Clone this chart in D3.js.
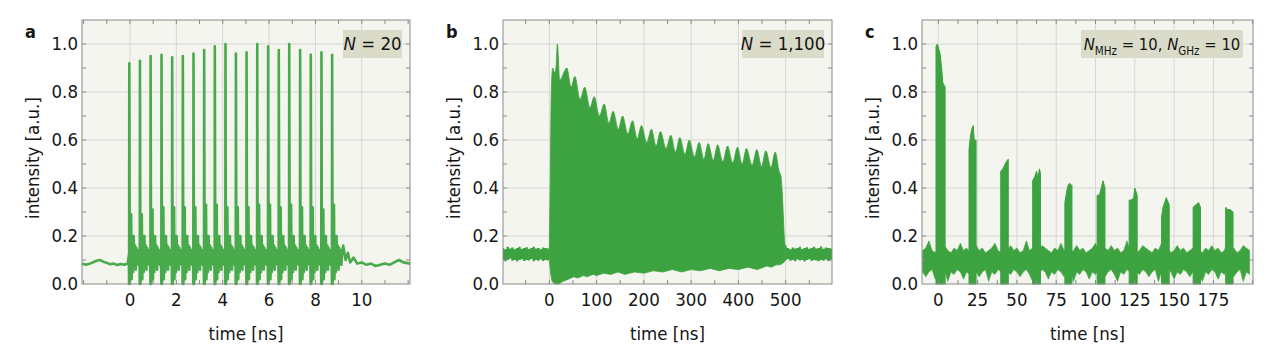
<!DOCTYPE html>
<html>
<head>
<meta charset="utf-8">
<script src="https://cdn.jsdelivr.net/npm/d3@7"></script>
<style>
  body { margin: 0; background: #fff; }
  text { font-family: "Liberation Sans Narrow", "DejaVu Sans Condensed", "Roboto Condensed", sans-serif; fill: #151515; }
</style>
</head>
<body>
<svg id="chart" width="1280" height="355"></svg>
<script>
// ---- data ----

// panel a: 20 pulses
var aPulseT = [-0.03, 0.43, 0.89, 1.36, 1.82, 2.28, 2.74, 3.2, 3.66, 4.12, 4.57, 5.03, 5.49, 5.96, 6.42, 6.87, 7.34, 7.8, 8.26, 8.72];
var aPeakV = [0.92, 0.93, 0.95, 0.955, 0.945, 0.95, 0.96, 0.975, 0.99, 1.0, 0.96, 0.965, 1.0, 0.99, 0.975, 1.0, 0.975, 0.955, 0.965, 0.955];
var aSecondV = [0.29, 0.29, 0.31, 0.32, 0.32, 0.32, 0.32, 0.33, 0.33, 0.32, 0.32, 0.32, 0.33, 0.33, 0.32, 0.33, 0.32, 0.32, 0.31, 0.33];
// shape of one pulse (time after pulse, level); "peak" / "second" come from the arrays above
var aShapeDt = [-0.02, -0.008, 0, 0.02, 0.045, 0.08, 0.1, 0.13, 0.16, 0.19, 0.22, 0.25, 0.28, 0.31, 0.34, 0.37, 0.4, 0.43];
var aShapeV = [0.12, 0, "peak", 0, 0.05, "second", 0.02, 0.17, 0.05, 0.2, 0.08, 0.16, 0.06, 0.15, 0.09, 0.14, 0.08, 0.13];
var aPreT = [-2.07, -1.9, -1.75, -1.6, -1.45, -1.3, -1.15, -1.0, -0.85, -0.7, -0.55, -0.4, -0.25, -0.1];
var aPreV = [0.085, 0.08, 0.084, 0.09, 0.097, 0.1, 0.093, 0.088, 0.082, 0.085, 0.079, 0.083, 0.08, 0.085];
var aPostT = [9.2, 9.3, 9.4, 9.5, 9.65, 9.8, 10.0, 10.2, 10.4, 10.6, 10.8, 11.0, 11.2, 11.4, 11.6, 11.8, 12.08];
var aPostV = [0.16, 0.1, 0.13, 0.09, 0.11, 0.085, 0.09, 0.08, 0.085, 0.075, 0.08, 0.085, 0.08, 0.09, 0.1, 0.09, 0.085];

// panel b: burst of 1,100 pulses (envelopes)
var bRiseT = [0, 2, 4, 7, 11, 14];
var bRiseV = [0.15, 0.45, 0.78, 0.9, 0.88, 0.9];
var bPeakT = [17, 37, 54, 75, 95, 116, 135, 155, 176, 195, 216, 235, 257, 276, 296, 317, 336, 356, 377, 398, 417, 439, 458, 478];
var bPeakV = [1.0, 0.9, 0.865, 0.82, 0.78, 0.75, 0.72, 0.7, 0.68, 0.66, 0.645, 0.635, 0.62, 0.61, 0.6, 0.59, 0.585, 0.58, 0.575, 0.57, 0.565, 0.56, 0.555, 0.55];
var bTroughT = [22, 46, 65, 86, 106, 126, 146, 166, 186, 206, 226, 247, 267, 287, 307, 327, 347, 367, 388, 408, 429, 449, 469, 486];
var bTroughV = [0.85, 0.82, 0.77, 0.735, 0.7, 0.67, 0.645, 0.625, 0.605, 0.59, 0.575, 0.565, 0.55, 0.54, 0.53, 0.52, 0.515, 0.51, 0.505, 0.5, 0.495, 0.49, 0.485, 0.47];
var bFallT = [490, 494, 497, 500];
var bFallV = [0.45, 0.33, 0.2, 0.15];
var bLowT = [0, 3, 6, 12, 20, 28, 40, 52, 60, 72, 80, 92, 100, 115, 130, 145, 160, 180, 200, 220, 240, 260, 280, 300, 320, 340, 360, 380, 400, 420, 440, 460, 470, 480, 488, 496, 500];
var bLowV = [0.1, 0.04, 0.01, 0.0, 0.0, 0.01, 0.02, 0.03, 0.025, 0.035, 0.03, 0.04, 0.035, 0.045, 0.04, 0.05, 0.04, 0.05, 0.045, 0.055, 0.05, 0.06, 0.05, 0.06, 0.055, 0.065, 0.055, 0.065, 0.06, 0.07, 0.06, 0.075, 0.07, 0.08, 0.08, 0.09, 0.1];
var bPreT = [-98, -93, -88, -83, -78, -73, -68, -63, -58, -53, -48, -43, -38, -33, -28, -23, -18, -13, -8, -3, 0];
var bPreHi = [0.15, 0.145, 0.155, 0.148, 0.152, 0.145, 0.15, 0.155, 0.147, 0.15, 0.153, 0.146, 0.15, 0.155, 0.148, 0.15, 0.145, 0.152, 0.15, 0.148, 0.15];
var bPreLo = [0.1, 0.095, 0.1, 0.105, 0.097, 0.1, 0.094, 0.1, 0.103, 0.096, 0.1, 0.098, 0.104, 0.095, 0.1, 0.097, 0.102, 0.096, 0.1, 0.098, 0.1];
var bPostT = [500, 505, 510, 515, 520, 525, 530, 535, 540, 545, 550, 555, 560, 565, 570, 575, 580, 585, 590, 598];
var bPostHi = [0.16, 0.15, 0.145, 0.152, 0.148, 0.15, 0.155, 0.146, 0.15, 0.153, 0.147, 0.15, 0.155, 0.148, 0.15, 0.156, 0.147, 0.152, 0.15, 0.148];
var bPostLo = [0.1, 0.104, 0.097, 0.1, 0.095, 0.102, 0.098, 0.1, 0.094, 0.1, 0.103, 0.096, 0.1, 0.098, 0.095, 0.1, 0.097, 0.102, 0.096, 0.1];

// panel c: 10 MHz bursts of 10 GHz pulses (top of each burst)
var cBurstT = [
  [-1.5, -0.6, 1.1, 2.1, 2.8, 4.3],
  [19.5, 20.5, 21.5, 22.2, 22.8, 24.0],
  [39.7, 41.0, 42.5, 43.8, 44.5],
  [60.0, 61.5, 62.5, 63.3, 64.3, 65.0],
  [80.5, 81.5, 82.5, 83.5, 85.0],
  [101.0, 102.5, 104.0, 104.8, 106.0],
  [121.4, 123.0, 124.3, 125.0, 126.5],
  [142.0, 143.0, 144.0, 145.0, 146.9],
  [162.1, 164.0, 165.5, 166.8],
  [182.8, 184.0, 185.5, 187.5]
];
var cBurstV = [
  [0.99, 1.0, 0.96, 0.9, 0.84, 0.82],
  [0.56, 0.62, 0.65, 0.66, 0.6, 0.6],
  [0.47, 0.48, 0.5, 0.515, 0.52],
  [0.43, 0.45, 0.47, 0.44, 0.48, 0.46],
  [0.34, 0.38, 0.41, 0.42, 0.41],
  [0.37, 0.37, 0.41, 0.43, 0.4],
  [0.35, 0.35, 0.36, 0.4, 0.37],
  [0.28, 0.32, 0.34, 0.36, 0.33],
  [0.32, 0.33, 0.34, 0.32],
  [0.32, 0.31, 0.31, 0.3]
];
// noise floor between bursts, every 2 ns
var cNoiseT = [-10, -8, -6, -4, -2, 0, 2, 4, 6, 8, 10, 12, 14, 16, 18, 20, 22, 24, 26, 28, 30, 32, 34, 36, 38, 40, 42, 44, 46, 48, 50, 52, 54, 56, 58, 60, 62, 64, 66, 68, 70, 72, 74, 76, 78, 80, 82, 84, 86, 88, 90, 92, 94, 96, 98, 100, 102, 104, 106, 108, 110, 112, 114, 116, 118, 120, 122, 124, 126, 128, 130, 132, 134, 136, 138, 140, 142, 144, 146, 148, 150, 152, 154, 156, 158, 160, 162, 164, 166, 168, 170, 172, 174, 176, 178, 180, 182, 184, 186, 188, 190, 192, 194, 196, 198];
var cNoiseHi = [
  0.14, 0.15, 0.18, 0.14, 0.13, 0.15, 0.14, 0.16, 0.14, 0.13,
  0.15, 0.14, 0.17, 0.14, 0.15, 0.13, 0.14, 0.16, 0.14, 0.15,
  0.13, 0.14, 0.15, 0.17, 0.14, 0.13, 0.15, 0.14, 0.16, 0.14,
  0.15, 0.13, 0.14, 0.18, 0.14, 0.15, 0.13, 0.14, 0.16, 0.15,
  0.14, 0.13, 0.15, 0.14, 0.17, 0.14, 0.15, 0.13, 0.14, 0.16,
  0.14, 0.15, 0.13, 0.14, 0.15, 0.17, 0.14, 0.13, 0.15, 0.14,
  0.16, 0.14, 0.15, 0.13, 0.14, 0.18, 0.14, 0.15, 0.13, 0.14,
  0.16, 0.15, 0.14, 0.13, 0.15, 0.14, 0.17, 0.14, 0.15, 0.13,
  0.14, 0.16, 0.14, 0.15, 0.13, 0.14, 0.15, 0.17, 0.14, 0.13,
  0.15, 0.14, 0.16, 0.14, 0.15, 0.13, 0.14, 0.18, 0.14, 0.15,
  0.13, 0.14, 0.16, 0.15, 0.14];
var cNoiseLo = [
  0.05, 0.03, 0.05, 0.06, 0.02, 0.05, 0.04, 0.06, 0.01, 0.05,
  0.04, 0.06, 0.05, 0.02, 0.05, 0.04, 0.06, 0.05, 0.03, 0.05,
  0.06, 0.01, 0.05, 0.04, 0.06, 0.05, 0.02, 0.05, 0.04, 0.06,
  0.05, 0.03, 0.05, 0.06, 0.04, 0.01, 0.05, 0.04, 0.06, 0.05,
  0.02, 0.05, 0.04, 0.06, 0.05, 0.03, 0.05, 0.06, 0.01, 0.05,
  0.04, 0.06, 0.05, 0.02, 0.05, 0.04, 0.06, 0.05, 0.03, 0.05,
  0.06, 0.04, 0.01, 0.05, 0.04, 0.06, 0.05, 0.02, 0.05, 0.04,
  0.06, 0.05, 0.03, 0.05, 0.06, 0.01, 0.05, 0.04, 0.06, 0.05,
  0.02, 0.05, 0.04, 0.06, 0.05, 0.03, 0.05, 0.06, 0.04, 0.01,
  0.05, 0.04, 0.06, 0.05, 0.02, 0.05, 0.04, 0.06, 0.05, 0.03,
  0.05, 0.06, 0.01, 0.05, 0.04];

var yTicks = [0, 0.2, 0.4, 0.6, 0.8, 1.0];

var panels = [
  { letter: "a", left: 82, right: 410, xDom: [-2.07, 12.08], xTicks: [0, 2, 4, 6, 8, 10], minor: 1 },
  { letter: "b", left: 503, right: 832, xDom: [-98, 598], xTicks: [0, 100, 200, 300, 400, 500], minor: 50 },
  { letter: "c", left: 922, right: 1253, xDom: [-10.4, 200.2], xTicks: [0, 25, 50, 75, 100, 125, 150, 175], minor: 12.5 }
];

var plotTop = 20, plotBottom = 284;
var green = "#3da340";
var svg = d3.select("#chart");

var y = d3.scaleLinear().domain([0, 1.1]).range([plotBottom, plotTop]);

function drawFrame(p) {
  var x = d3.scaleLinear().domain(p.xDom).range([p.left, p.right]);
  var g = svg.append("g");
  p.x = x;

  g.append("rect")
    .attr("x", p.left).attr("y", plotTop)
    .attr("width", p.right - p.left).attr("height", plotBottom - plotTop)
    .attr("fill", "#f5f5f0");

  // grid
  g.selectAll(".vg").data(p.xTicks).enter().append("line")
    .attr("x1", function (d) { return x(d); }).attr("x2", function (d) { return x(d); })
    .attr("y1", plotTop).attr("y2", plotBottom)
    .attr("stroke", "#d6d6d2").attr("stroke-width", 1);
  g.selectAll(".hg").data(yTicks.slice(1)).enter().append("line")
    .attr("x1", p.left).attr("x2", p.right)
    .attr("y1", function (d) { return y(d); }).attr("y2", function (d) { return y(d); })
    .attr("stroke", "#d6d6d2").attr("stroke-width", 1);

  p.plot = svg.append("g");

  // inward ticks on all four sides
  var minorX = d3.range(Math.ceil(p.xDom[0] / p.minor) * p.minor, p.xDom[1], p.minor);
  var minorY = d3.range(0.1, 1.1, 0.1);
  var ticks = svg.append("g").attr("stroke", "#8a8a8a").attr("stroke-width", 1);
  minorX.forEach(function (t) {
    ticks.append("line").attr("x1", x(t)).attr("x2", x(t)).attr("y1", plotTop).attr("y2", plotTop + 4);
    ticks.append("line").attr("x1", x(t)).attr("x2", x(t)).attr("y1", plotBottom).attr("y2", plotBottom - 4);
  });
  minorY.forEach(function (v) {
    ticks.append("line").attr("x1", p.left).attr("x2", p.left + 4).attr("y1", y(v)).attr("y2", y(v));
    ticks.append("line").attr("x1", p.right).attr("x2", p.right - 4).attr("y1", y(v)).attr("y2", y(v));
  });

  svg.append("rect")
    .attr("x", p.left).attr("y", plotTop)
    .attr("width", p.right - p.left).attr("height", plotBottom - plotTop)
    .attr("fill", "none").attr("stroke", "#8a8a8a").attr("stroke-width", 1);

  // tick labels
  svg.append("g").selectAll("text").data(yTicks).enter().append("text")
    .attr("x", p.left - 4).attr("y", function (d) { return y(d) + 6; })
    .attr("text-anchor", "end").attr("font-size", 18.5)
    .text(function (d) { return d.toFixed(1); });
  svg.append("g").selectAll("text").data(p.xTicks).enter().append("text")
    .attr("x", function (d) { return x(d); }).attr("y", 306)
    .attr("text-anchor", "middle").attr("font-size", 18.5)
    .text(function (d) { return d; });

  // axis titles
  svg.append("text")
    .attr("x", (p.left + p.right) / 2).attr("y", 340)
    .attr("text-anchor", "middle").attr("font-size", 18.5)
    .text("time [ns]");
  svg.append("text")
    .attr("transform", "translate(" + (p.left - 43) + "," + ((plotTop + plotBottom) / 2 + 6) + ") rotate(-90)")
    .attr("text-anchor", "middle").attr("font-size", 18.5)
    .text("intensity [a.u.]");

  svg.append("text")
    .attr("x", p.left - 57).attr("y", 38)
    .attr("font-size", 18).attr("font-weight", "bold")
    .text(p.letter);
}

panels.forEach(drawFrame);

// ---- panel a ----
(function () {
  var p = panels[0], x = p.x;
  var pts = [];
  aPreT.forEach(function (t, i) { pts.push([t, aPreV[i]]); });
  aPulseT.forEach(function (t0, k) {
    aShapeDt.forEach(function (dt, j) {
      var v = aShapeV[j];
      if (v === "peak") v = aPeakV[k];
      if (v === "second") v = aSecondV[k];
      pts.push([t0 + dt, v]);
    });
  });
  aPostT.forEach(function (t, i) { pts.push([t, aPostV[i]]); });

  p.plot.append("path")
    .datum(pts)
    .attr("fill", "none")
    .attr("stroke", "#48aa4b")
    .attr("stroke-width", 2.6)
    .attr("stroke-linejoin", "round")
    .attr("d", d3.line().x(function (d) { return x(d[0]); }).y(function (d) { return y(d[1]); }));
})();

// ---- panel b ----
(function () {
  var p = panels[1], x = p.x;
  var band = d3.area().curve(d3.curveStep)
    .x(function (d) { return x(d.t); })
    .y0(function (d) { return y(d.lo); })
    .y1(function (d) { return y(d.hi); });

  var pre = bPreT.map(function (t, i) { return { t: t, lo: bPreLo[i], hi: bPreHi[i] }; });
  var post = bPostT.map(function (t, i) { return { t: t, lo: bPostLo[i], hi: bPostHi[i] }; });
  p.plot.append("path").datum(pre).attr("fill", green).attr("d", band);
  p.plot.append("path").datum(post).attr("fill", green).attr("d", band);

  // upper envelope: rise, alternating peaks / troughs, fall
  var upper = [];
  bRiseT.forEach(function (t, i) { upper.push([t, bRiseV[i]]); });
  bPeakT.forEach(function (t, i) {
    upper.push([t, bPeakV[i]]);
    upper.push([bTroughT[i], bTroughV[i]]);
  });
  bFallT.forEach(function (t, i) { upper.push([t, bFallV[i]]); });
  var lower = bLowT.map(function (t, i) { return [t, bLowV[i]]; });

  var upperPath = d3.line().curve(d3.curveMonotoneX)
    .x(function (d) { return x(d[0]); })
    .y(function (d) { return y(d[1]); })(upper);
  var lowerPart = lower.slice().reverse().map(function (d) {
    return "L" + x(d[0]) + "," + y(d[1]);
  }).join("");
  p.plot.append("path").attr("d", upperPath + lowerPart + "Z").attr("fill", green)
    .attr("stroke", green).attr("stroke-width", 0.8);
})();

// ---- panel c ----
(function () {
  var p = panels[2], x = p.x;
  var noise = cNoiseT.map(function (t, i) { return { t: t, lo: cNoiseLo[i], hi: cNoiseHi[i] }; });
  p.plot.append("path").datum(noise)
    .attr("fill", green)
    .attr("stroke", green).attr("stroke-width", 0.6)
    .attr("d", d3.area()
      .x(function (d) { return x(d.t); })
      .y0(function (d) { return y(d.lo); })
      .y1(function (d) { return y(d.hi); }));

  cBurstT.forEach(function (ts, k) {
    var pts = ts.map(function (t, i) { return [t, cBurstV[k][i]]; });
    p.plot.append("path").datum(pts)
      .attr("fill", green)
      .attr("stroke", green).attr("stroke-width", 1)
      .attr("d", d3.area()
        .x(function (d) { return x(d[0]); })
        .y0(y(0))
        .y1(function (d) { return y(d[1]); }));
  });
})();

// ---- legend boxes ----
var legends = [
  { x0: 343, x1: 402, size: 18.5, parts: [["N", "i"], [" = 20", ""]] },
  { x0: 742, x1: 824, size: 18.5, parts: [["N", "i"], [" = 1,100", ""]] },
  { x0: 1081, x1: 1243, size: 16.5, parts: [["N", "i"], ["MHz", "s"], [" = 10, ", ""], ["N", "i"], ["GHz", "s"], [" = 10", ""]] }
];
legends.forEach(function (l) {
  svg.append("rect")
    .attr("x", l.x0).attr("y", 30).attr("width", l.x1 - l.x0).attr("height", 28)
    .attr("fill", "#dbdbc9");
  var t = svg.append("text")
    .attr("x", (l.x0 + l.x1) / 2).attr("y", 50)
    .attr("text-anchor", "middle").attr("font-size", l.size);
  var sub = false;
  l.parts.forEach(function (s) {
    var ts = t.append("tspan").text(s[0]);
    if (s[1] === "i") ts.attr("font-style", "italic");
    if (s[1] === "s") { ts.attr("font-size", 11.5).attr("dy", 5); sub = true; }
    else if (sub) { ts.attr("dy", -5); sub = false; }
  });
});
</script>
</body>
</html>
